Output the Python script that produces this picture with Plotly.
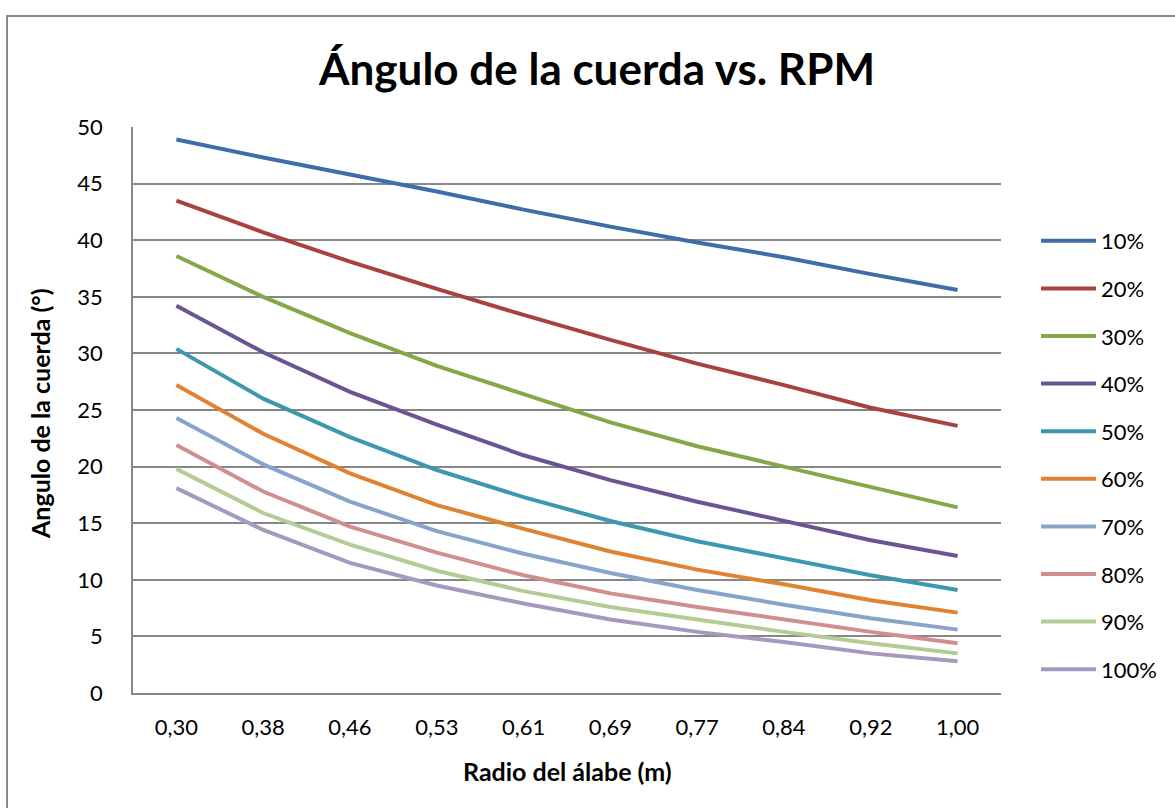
import plotly.graph_objects as go

# Blade radius categories (m) and chord angle (deg) per RPM percentage
radios = ["0,30", "0,38", "0,46", "0,53", "0,61", "0,69", "0,77", "0,84", "0,92", "1,00"]

rpm_10 = [48.9, 47.3, 45.8, 44.3, 42.7, 41.2, 39.8, 38.5, 37.0, 35.6]
rpm_20 = [43.5, 40.7, 38.1, 35.7, 33.4, 31.2, 29.1, 27.2, 25.2, 23.6]
rpm_30 = [38.6, 35.0, 31.8, 28.9, 26.4, 23.9, 21.8, 20.0, 18.2, 16.4]
rpm_40 = [34.2, 30.1, 26.6, 23.7, 21.0, 18.8, 16.9, 15.2, 13.5, 12.1]
rpm_50 = [30.4, 26.0, 22.6, 19.7, 17.3, 15.2, 13.4, 11.9, 10.4, 9.1]
rpm_60 = [27.2, 22.9, 19.4, 16.6, 14.5, 12.5, 10.9, 9.6, 8.2, 7.1]
rpm_70 = [24.3, 20.2, 16.9, 14.3, 12.3, 10.6, 9.1, 7.8, 6.6, 5.6]
rpm_80 = [21.9, 17.8, 14.7, 12.4, 10.4, 8.8, 7.6, 6.5, 5.4, 4.4]
rpm_90 = [19.8, 15.9, 13.1, 10.8, 9.0, 7.6, 6.5, 5.4, 4.4, 3.5]
rpm_100 = [18.1, 14.4, 11.5, 9.5, 7.9, 6.5, 5.4, 4.5, 3.5, 2.8]

series_names = ["10%", "20%", "30%", "40%", "50%", "60%", "70%", "80%", "90%", "100%"]
series_values = [rpm_10, rpm_20, rpm_30, rpm_40, rpm_50,
                 rpm_60, rpm_70, rpm_80, rpm_90, rpm_100]
series_colors = ["#3F6DA8", "#A84240", "#84A848", "#6B5492", "#3C98AE",
                 "#E08232", "#88A4CC", "#D08E8E", "#B4CC94", "#A698BE"]

y_ticks = [0, 5, 10, 15, 20, 25, 30, 35, 40, 45, 50]

FONT = "Lato, Calibri, Carlito, sans-serif"
GRID = "#878787"

fig = go.Figure()
for name, vals, col in zip(series_names, series_values, series_colors):
    fig.add_trace(go.Scatter(
        x=radios, y=vals, name=name, mode="lines",
        line=dict(color=col, width=4),
        legendgroup=name,
    ))

# Plot area geometry in pixels
W, H = 1175, 808
L, R, T, B = 133, 174, 127, 115
pw, ph = W - L - R, H - T - B

def px_x(x):
    return (x - L) / pw

def px_y(y):
    return (H - B - y) / ph

fig.update_layout(
    width=W, height=H,
    margin=dict(l=L, r=R, t=T, b=B),
    paper_bgcolor="white", plot_bgcolor="white",
    font=dict(family=FONT, size=22, color="#000000"),
    title=dict(text="<b>Ángulo de la cuerda vs. RPM</b>",
               font=dict(family=FONT, size=44, color="#000000"),
               x=597 / W, xanchor="center", y=1 - 70 / H, yanchor="middle"),
    showlegend=True,
    legend=dict(x=px_x(1036), xanchor="left", y=px_y(220), yanchor="top",
                font=dict(family=FONT, size=22, color="#000000"),
                itemwidth=55, tracegroupgap=16, bgcolor="rgba(0,0,0,0)"),
    xaxis=dict(type="category", range=[-0.5, len(radios) - 0.5],
               showline=True, linecolor=GRID, linewidth=1.5, mirror=False,
               showgrid=False, ticks="", ticklabelstandoff=14,
               tickfont=dict(family=FONT, size=22, color="#000000")),
    yaxis=dict(range=[0, 50], tickvals=y_ticks,
               showline=True, linecolor=GRID, linewidth=1.5,
               showgrid=True, gridcolor=GRID, gridwidth=1.5,
               zeroline=False, ticks="", ticklabelstandoff=24,
               tickfont=dict(family=FONT, size=22, color="#000000")),
    annotations=[
        dict(text="<b>Radio del álabe (m)</b>", xref="paper", yref="paper",
             x=0.5, y=px_y(771), xanchor="center", yanchor="middle",
             showarrow=False, font=dict(family=FONT, size=25, color="#000000")),
        dict(text="<b>Angulo de la cuerda (°)</b>", xref="paper", yref="paper",
             x=px_x(40), y=px_y(414), xanchor="center", yanchor="middle",
             textangle=-90, showarrow=False,
             font=dict(family=FONT, size=25, color="#000000")),
    ],
    shapes=[
        dict(type="rect", xref="paper", yref="paper", layer="below",
             x0=px_x(7), x1=px_x(W + 20), y0=px_y(H + 20), y1=px_y(16),
             line=dict(color="#888888", width=2), fillcolor="rgba(0,0,0,0)"),
    ],
)

fig.write_html("out.html")
